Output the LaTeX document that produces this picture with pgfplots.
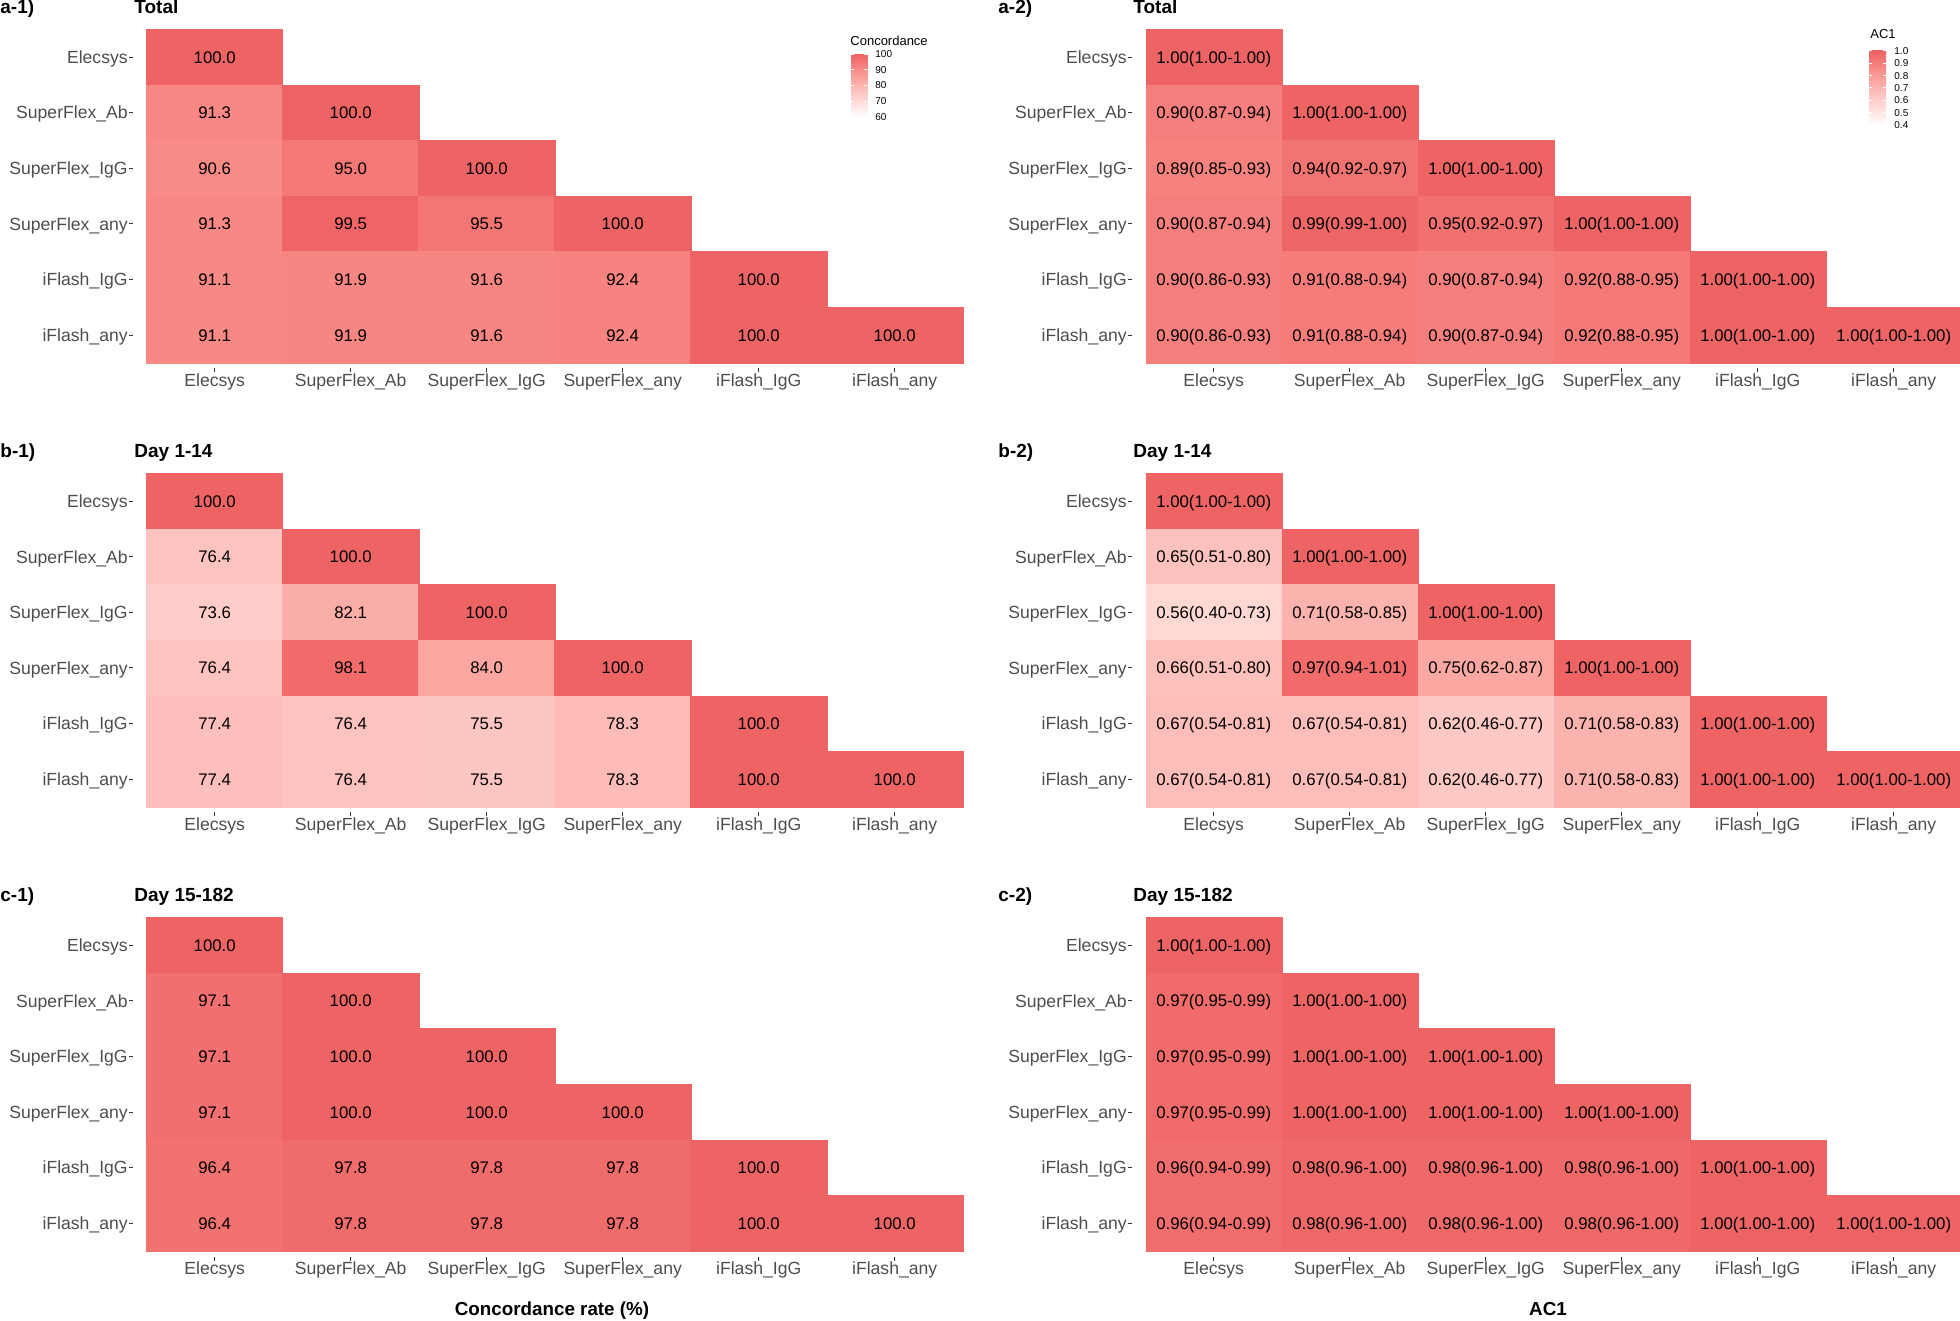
\documentclass[border=0pt]{standalone}
\usepackage{pgfplots}
\usepackage{pgfplotstable}
\pgfplotsset{compat=1.18}
\usepackage{fontspec}
\setmainfont{Liberation Sans}
\definecolor{axgray}{HTML}{4D4D4D}
\definecolor{tickgray}{HTML}{333333}
\definecolor{g0}{RGB}{255,255,255}
\definecolor{g1}{RGB}{255,218,215}
\definecolor{g2}{RGB}{252,182,177}
\definecolor{g3}{RGB}{249,141,136}
\definecolor{g4}{RGB}{238,99,99}

% ---------------- data ----------------
\pgfplotstableread{
x y v
0 5 100.0
0 4 91.3
1 4 100.0
0 3 90.6
1 3 95.0
2 3 100.0
0 2 91.3
1 2 99.5
2 2 95.5
3 2 100.0
0 1 91.1
1 1 91.9
2 1 91.6
3 1 92.4
4 1 100.0
0 0 91.1
1 0 91.9
2 0 91.6
3 0 92.4
4 0 100.0
5 0 100.0
}\tAone
\pgfplotstableread{
x y v lab
0 5 1.00 1.00(1.00-1.00)
0 4 0.90 0.90(0.87-0.94)
1 4 1.00 1.00(1.00-1.00)
0 3 0.89 0.89(0.85-0.93)
1 3 0.94 0.94(0.92-0.97)
2 3 1.00 1.00(1.00-1.00)
0 2 0.90 0.90(0.87-0.94)
1 2 0.99 0.99(0.99-1.00)
2 2 0.95 0.95(0.92-0.97)
3 2 1.00 1.00(1.00-1.00)
0 1 0.90 0.90(0.86-0.93)
1 1 0.91 0.91(0.88-0.94)
2 1 0.90 0.90(0.87-0.94)
3 1 0.92 0.92(0.88-0.95)
4 1 1.00 1.00(1.00-1.00)
0 0 0.90 0.90(0.86-0.93)
1 0 0.91 0.91(0.88-0.94)
2 0 0.90 0.90(0.87-0.94)
3 0 0.92 0.92(0.88-0.95)
4 0 1.00 1.00(1.00-1.00)
5 0 1.00 1.00(1.00-1.00)
}\tAtwo
\pgfplotstableread{
x y v
0 5 100.0
0 4 76.4
1 4 100.0
0 3 73.6
1 3 82.1
2 3 100.0
0 2 76.4
1 2 98.1
2 2 84.0
3 2 100.0
0 1 77.4
1 1 76.4
2 1 75.5
3 1 78.3
4 1 100.0
0 0 77.4
1 0 76.4
2 0 75.5
3 0 78.3
4 0 100.0
5 0 100.0
}\tBone
\pgfplotstableread{
x y v lab
0 5 1.00 1.00(1.00-1.00)
0 4 0.65 0.65(0.51-0.80)
1 4 1.00 1.00(1.00-1.00)
0 3 0.56 0.56(0.40-0.73)
1 3 0.71 0.71(0.58-0.85)
2 3 1.00 1.00(1.00-1.00)
0 2 0.66 0.66(0.51-0.80)
1 2 0.97 0.97(0.94-1.01)
2 2 0.75 0.75(0.62-0.87)
3 2 1.00 1.00(1.00-1.00)
0 1 0.67 0.67(0.54-0.81)
1 1 0.67 0.67(0.54-0.81)
2 1 0.62 0.62(0.46-0.77)
3 1 0.71 0.71(0.58-0.83)
4 1 1.00 1.00(1.00-1.00)
0 0 0.67 0.67(0.54-0.81)
1 0 0.67 0.67(0.54-0.81)
2 0 0.62 0.62(0.46-0.77)
3 0 0.71 0.71(0.58-0.83)
4 0 1.00 1.00(1.00-1.00)
5 0 1.00 1.00(1.00-1.00)
}\tBtwo
\pgfplotstableread{
x y v
0 5 100.0
0 4 97.1
1 4 100.0
0 3 97.1
1 3 100.0
2 3 100.0
0 2 97.1
1 2 100.0
2 2 100.0
3 2 100.0
0 1 96.4
1 1 97.8
2 1 97.8
3 1 97.8
4 1 100.0
0 0 96.4
1 0 97.8
2 0 97.8
3 0 97.8
4 0 100.0
5 0 100.0
}\tCone
\pgfplotstableread{
x y v lab
0 5 1.00 1.00(1.00-1.00)
0 4 0.97 0.97(0.95-0.99)
1 4 1.00 1.00(1.00-1.00)
0 3 0.97 0.97(0.95-0.99)
1 3 1.00 1.00(1.00-1.00)
2 3 1.00 1.00(1.00-1.00)
0 2 0.97 0.97(0.95-0.99)
1 2 1.00 1.00(1.00-1.00)
2 2 1.00 1.00(1.00-1.00)
3 2 1.00 1.00(1.00-1.00)
0 1 0.96 0.96(0.94-0.99)
1 1 0.98 0.98(0.96-1.00)
2 1 0.98 0.98(0.96-1.00)
3 1 0.98 0.98(0.96-1.00)
4 1 1.00 1.00(1.00-1.00)
0 0 0.96 0.96(0.94-0.99)
1 0 0.98 0.98(0.96-1.00)
2 0 0.98 0.98(0.96-1.00)
3 0 0.98 0.98(0.96-1.00)
4 0 1.00 1.00(1.00-1.00)
5 0 1.00 1.00(1.00-1.00)
}\tCtwo

\pgfplotsset{
  /pgf/number format/assume math mode=true,
  colormap={gg}{rgb255=(255,255,255) rgb255=(255,218,215) rgb255=(252,182,177) rgb255=(249,141,136) rgb255=(238,99,99)},
  heat/.style={
    scale only axis, width=414.8pt, height=169.58pt,
    xmin=-0.6, xmax=5.5, ymin=-0.6, ymax=5.5,
    axis line style={draw=none},
    xtick={0,...,5}, ytick={0,...,5},
    xticklabels={Elecsys,SuperFlex\_Ab,SuperFlex\_IgG,SuperFlex\_any,iFlash\_IgG,iFlash\_any},
    yticklabels={iFlash\_any,iFlash\_IgG,SuperFlex\_any,SuperFlex\_IgG,SuperFlex\_Ab,Elecsys},
    xtick pos=left, ytick pos=left,
    tick align=outside, major tick length=2pt,
    tick style={draw=tickgray, line width=0.5pt},
    ticklabel style={font=\fontsize{8.8}{10}\selectfont, text=axgray},
    yticklabel style={anchor=base east, yshift=-3.15pt, inner xsep=0.5pt},
    xticklabel style={anchor=north, inner ysep=0.5pt},
    colormap name=gg,
    clip=false,
  },
  cells/.style={scatter, only marks, mark=square*, mark size=34pt,
    point meta=\thisrow{v},
    scatter/use mapped color={draw=mapped color, fill=mapped color},
    mark options={yscale=0.408824, line width=0.2pt}},
  labstyle/.style={draw=none, mark=none,
    nodes near coords style={anchor=base, yshift=-3pt, inner sep=0pt, font=\fontsize{8.4}{10}\selectfont, text=black}},
  conclabs/.style={labstyle, point meta=\thisrow{v},
    nodes near coords={\pgfmathprintnumber[fixed,fixed zerofill,precision=1]{\pgfplotspointmeta}}},
  aclabs/.style={labstyle, point meta=explicit symbolic,
    nodes near coords={\pgfplotspointmeta}},
  conc/.style={heat, point meta min=60, point meta max=100},
  ac/.style={heat, point meta min=0.4, point meta max=1.0},
}
\begin{document}
\begin{tikzpicture}
\useasboundingbox (0,0) rectangle (980pt,660.5pt);

% ---------- a-1 ----------
\begin{axis}[conc, at={(66.55pt,476.3pt)}, anchor=south west]
\addplot[cells] table[x=x,y=y] {\tAone};
\addplot[conclabs] table[x=x,y=y] {\tAone};
\end{axis}
% ---------- a-2 ----------
\begin{axis}[ac, at={(566.05pt,476.3pt)}, anchor=south west]
\addplot[cells] table[x=x,y=y] {\tAtwo};
\addplot[aclabs] table[x=x,y=y,meta=lab] {\tAtwo};
\end{axis}
% ---------- b-1 ----------
\begin{axis}[conc, at={(66.55pt,254.25pt)}, anchor=south west]
\addplot[cells] table[x=x,y=y] {\tBone};
\addplot[conclabs] table[x=x,y=y] {\tBone};
\end{axis}
% ---------- b-2 ----------
\begin{axis}[ac, at={(566.05pt,254.25pt)}, anchor=south west]
\addplot[cells] table[x=x,y=y] {\tBtwo};
\addplot[aclabs] table[x=x,y=y,meta=lab] {\tBtwo};
\end{axis}
% ---------- c-1 ----------
\begin{axis}[conc, at={(66.55pt,32.2pt)}, anchor=south west]
\addplot[cells] table[x=x,y=y] {\tCone};
\addplot[conclabs] table[x=x,y=y] {\tCone};
\end{axis}
% ---------- c-2 ----------
\begin{axis}[ac, at={(566.05pt,32.2pt)}, anchor=south west]
\addplot[cells] table[x=x,y=y] {\tCtwo};
\addplot[aclabs] table[x=x,y=y,meta=lab] {\tCtwo};
\end{axis}

% ---------- titles ----------
\begin{scope}[every node/.style={inner sep=0pt, anchor=base west, font=\fontsize{9.5}{11}\selectfont\bfseries}]
\node at (0pt,653.65pt) {a-1)};
\node at (67pt,653.65pt) {Total};
\node at (499pt,653.65pt) {a-2)};
\node at (566.5pt,653.65pt) {Total};
\node at (0pt,431.65pt) {b-1)};
\node at (67pt,431.65pt) {Day 1-14};
\node at (499pt,431.65pt) {b-2)};
\node at (566.5pt,431.65pt) {Day 1-14};
\node at (0pt,209.65pt) {c-1)};
\node at (67pt,209.65pt) {Day 15-182};
\node at (499pt,209.65pt) {c-2)};
\node at (566.5pt,209.65pt) {Day 15-182};
\end{scope}
\node[inner sep=0pt, anchor=base, font=\fontsize{9.4}{11}\selectfont\bfseries] at (276pt,2.65pt) {Concordance rate (\%)};
\node[inner sep=0pt, anchor=base, font=\fontsize{9.4}{11}\selectfont\bfseries] at (774pt,2.65pt) {AC1};

% ---------- colour legends ----------
\node[inner sep=0pt, anchor=west, font=\fontsize{6.5}{8}\selectfont] at (425pt,640.15pt) {Concordance};
\shade[bottom color=g0, top color=g1] (425.5pt,602.15pt) rectangle (433.7pt,610.0pt);
\shade[bottom color=g1, top color=g2] (425.5pt,609.95pt) rectangle (433.7pt,617.8pt);
\shade[bottom color=g2, top color=g3] (425.5pt,617.75pt) rectangle (433.7pt,625.6pt);
\shade[bottom color=g3, top color=g4] (425.5pt,625.55pt) rectangle (433.7pt,633.35pt);
\foreach \yy/\tt in {602.15/60, 609.95/70, 617.75/80, 625.55/90, 633.35/100}{
  \draw[white, line width=0.5pt] (425.5pt,\yy pt) -- ++(1.6pt,0pt);
  \draw[white, line width=0.5pt] (433.7pt,\yy pt) -- ++(-1.6pt,0pt);
  \node[inner sep=0pt, anchor=west, font=\fontsize{5}{6}\selectfont] at (437.5pt,\yy pt) {\tt};
}
\node[inner sep=0pt, anchor=west, font=\fontsize{6.5}{8}\selectfont] at (935pt,643.5pt) {AC1};
\shade[bottom color=g0, top color=g1] (934.5pt,598pt) rectangle (943pt,607.3pt);
\shade[bottom color=g1, top color=g2] (934.5pt,607.25pt) rectangle (943pt,616.55pt);
\shade[bottom color=g2, top color=g3] (934.5pt,616.5pt) rectangle (943pt,625.8pt);
\shade[bottom color=g3, top color=g4] (934.5pt,625.75pt) rectangle (943pt,635pt);
\foreach \yy/\tt in {598/0.4, 604.167/0.5, 610.333/0.6, 616.5/0.7, 622.667/0.8, 628.833/0.9, 635/1.0}{
  \draw[white, line width=0.5pt] (934.5pt,\yy pt) -- ++(1.7pt,0pt);
  \draw[white, line width=0.5pt] (943pt,\yy pt) -- ++(-1.7pt,0pt);
  \node[inner sep=0pt, anchor=west, font=\fontsize{5}{6}\selectfont] at (947pt,\yy pt) {\tt};
}
\end{tikzpicture}
\end{document}
